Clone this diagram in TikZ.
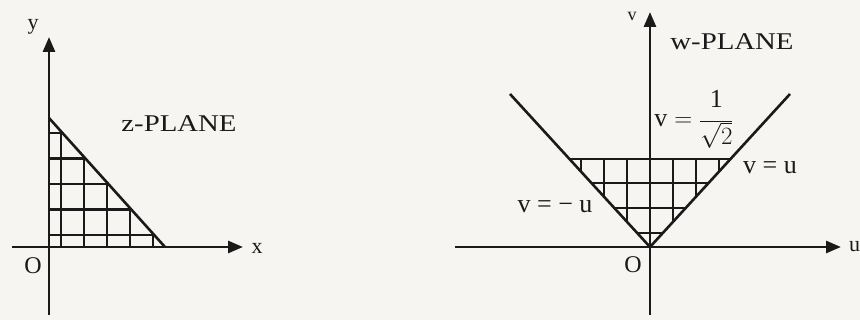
\documentclass[tikz,border=0pt]{standalone}
\usepackage{fontspec}
\setmainfont{Liberation Serif}
\usepackage{tikz}
\usetikzlibrary{arrows.meta,positioning}
\definecolor{inkc}{HTML}{1A1A1A}
\definecolor{paperc}{HTML}{F6F5F2}
\tikzset{
  axis/.style={-{Triangle[length=15pt,width=12pt]},line width=2.8pt,inkc},
  edge/.style={line width=2.6pt,inkc},
  hatch/.style={line width=2.2pt,inkc},
  lbl/.style={font=\fontsize{22}{24}\selectfont,inkc,inner sep=0pt},
  eqn/.style={font=\fontsize{26}{28}\selectfont,inkc,inner sep=0pt},
  plane/.style={font=\fontsize{24}{26}\selectfont,inkc,inner sep=0pt,xscale=1.2,transform shape}
}

\begin{document}
\begin{tikzpicture}[x=1pt,y=1pt]
\fill[paperc] (0,0) rectangle (860,320);
\useasboundingbox (0,0) rectangle (860,320);
% z-plane
\coordinate (zO) at (49,73);
\coordinate (zxl) at (12,73); \coordinate (zxr) at (243,73);
\coordinate (zyb) at (49,5); \coordinate (zyt) at (49,283);
\coordinate (zA) at (49,202); \coordinate (zB) at (165,73);
\begin{scope}
\clip (zO)--(zA)--(zB)--cycle;
\foreach \yy in {85,110.5,136,161.5,187} \draw[hatch] (40,\yy)--(180,\yy);
\foreach \xx in {61,84,107,130,153} \draw[hatch] (\xx,60)--(\xx,210);
\end{scope}
\draw[edge] (zA)--(zB);
\draw[axis] (zxl)--(zxr);
\draw[axis] (zyb)--(zyt);
\node[lbl] (zy) at (33,293) {y};
\node[lbl] (zx) at (257,72) {x};
\node[lbl,font=\fontsize{24}{26}\selectfont] (zo) at (33,54) {O};
\node[plane] (zpl) at (179,196) {z-PLANE};
% w-plane
\coordinate (wO) at (650,73);
\coordinate (wul) at (455,73); \coordinate (wur) at (841,73);
\coordinate (wvb) at (650,5); \coordinate (wvt) at (650,308);
\coordinate (wL) at (510,226); \coordinate (wR) at (790,226);
\coordinate (wTL) at (570,161); \coordinate (wTR) at (730,161);
\begin{scope}
\clip (wO)--(wTL)--(wTR)--cycle;
\foreach \yy in {87,112,137} \draw[hatch] (550,\yy)--(750,\yy);
\foreach \xx in {-3,...,3} \draw[hatch] (650+23*\xx,60)--(650+23*\xx,170);
\end{scope}
\draw[edge] (wTL)--(wTR);
\draw[edge] (wL)--(wO)--(wR);
\draw[axis] (wul)--(wur);
\draw[axis] (wvb)--(wvt);
\node[lbl,font=\fontsize{18}{20}\selectfont] (wv) at (632,304) {v};
\node[lbl,anchor=west] (wu) at (849,73) {u};
\node[lbl,font=\fontsize{24}{26}\selectfont] (wo) at (633,55) {O};
\node[plane] (wpl) at (732,278) {w-PLANE};
\node[eqn] (ltop) at (694,201) {$\mathrm{v} = \displaystyle\frac{\raisebox{3pt}{1}}{\sqrt{2}}$};
\node[eqn] (lright) at (770,152) {v = u};
\node[eqn] (lleft) at (555,113) {v = − u};
\end{tikzpicture}
\end{document}
